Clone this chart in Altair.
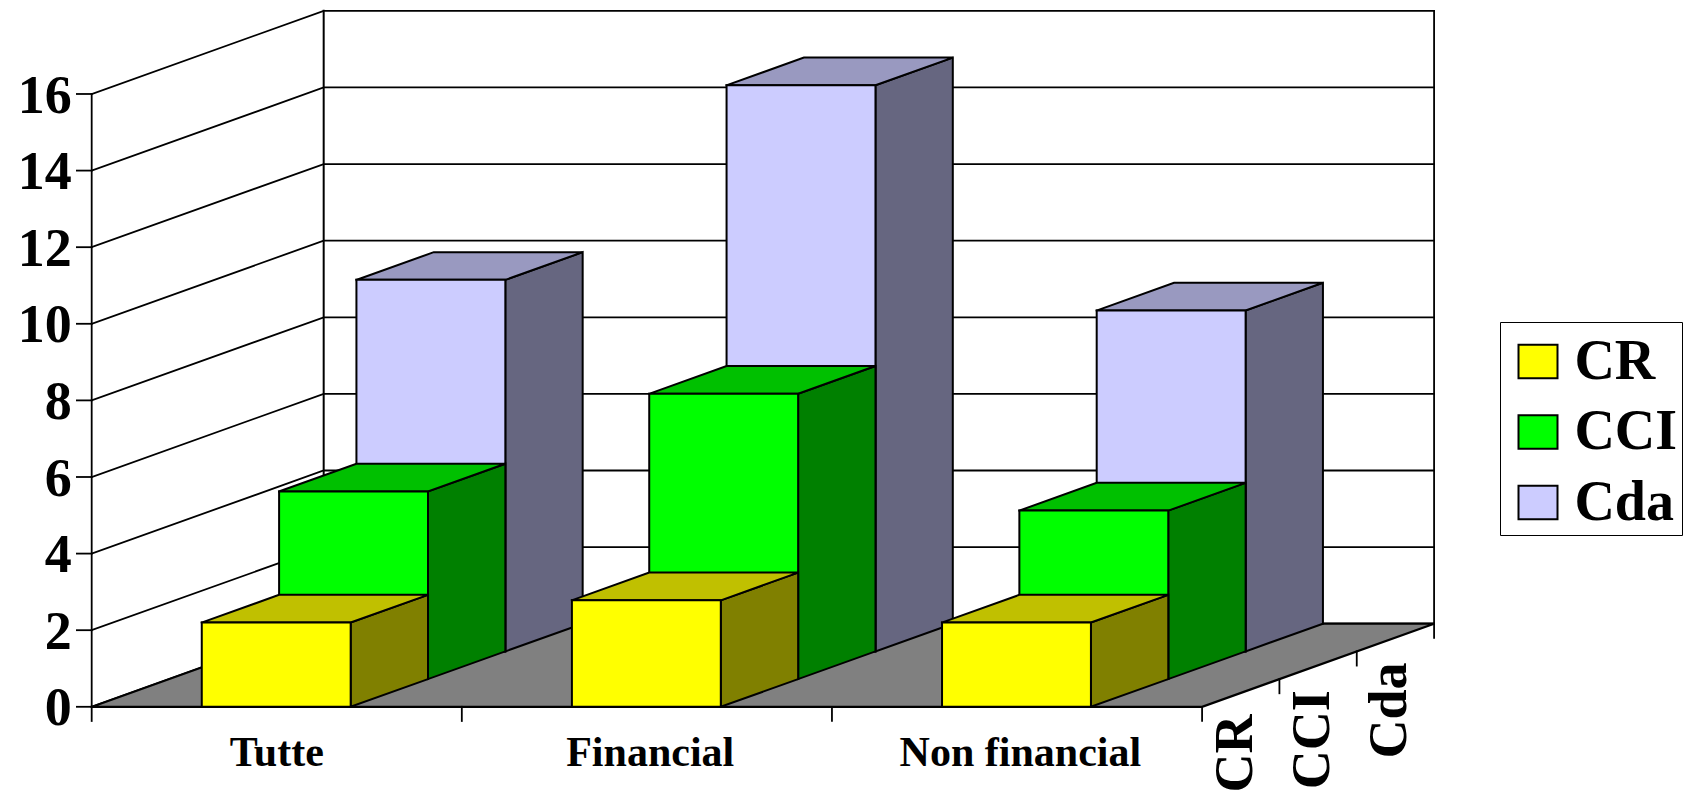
import altair as alt
import pandas as pd

categories = ["Tutte", "Financial", "Non financial"]
series = ["CR", "CCI", "Cda"]
values_cr = [2.2, 2.78, 2.2]
values_cci = [4.9, 7.45, 4.4]
values_cda = [9.7, 14.78, 8.9]
all_values = [values_cr, values_cci, values_cda]
value_ticks = [0, 2, 4, 6, 8, 10, 12, 14, 16]

front_colors = ["#FFFF00", "#00FF00", "#CCCCFF"]
top_colors = ["#C0C000", "#00C000", "#9999C0"]
side_colors = ["#808000", "#008000", "#666680"]
FLOOR = "#808080"
FONT = "Liberation Serif"

# oblique projection: cat in category units, v in value units, depth 0..1
DX, DY = 0.6268, 2.17
W, H = 1676, 788
X_DOMAIN = [-0.2261, 4.3020]
Y_DOMAIN = [-2.329, 18.245]
xs = alt.Scale(domain=X_DOMAIN, range=[0, W], nice=False, zero=False)
ys = alt.Scale(domain=Y_DOMAIN, range=[H, 0], nice=False, zero=False)

def proj(c, v, d):
    return c + d * DX, v + d * DY

def enc(ch):
    return ch.encode(
        x=alt.X("x:Q", scale=xs, axis=None),
        y=alt.Y("y:Q", scale=ys, axis=None),
        order="o:Q",
    )

def poly(points, fill=None, width=2.0):
    pts = list(points)
    if fill is not None:
        pts = pts + [pts[0]]
    df = pd.DataFrame([{"x": p[0], "y": p[1], "o": i} for i, p in enumerate(pts)])
    kw = dict(stroke="black", strokeWidth=width, strokeJoin="miter", strokeCap="square", interpolate="linear")
    if fill is not None:
        kw["fill"] = fill
    return enc(alt.Chart(df).mark_line(**kw))

def text(label, px, py, size, **kw):
    df = pd.DataFrame([{"x": px, "y": py, "t": label}])
    return alt.Chart(df).mark_text(font=FONT, fontWeight="bold", fontSize=size, color="black", **kw).encode(
        x=alt.X("x:Q", scale=xs, axis=None),
        y=alt.Y("y:Q", scale=ys, axis=None),
        text="t:N",
    )

layers = []

# walls and grid
for v in value_ticks:
    layers.append(poly([proj(0, v, 0), proj(0, v, 1), proj(3, v, 1)], width=1.8))
layers.append(poly([proj(0, 0, 1), proj(0, 16, 1)], width=2))
layers.append(poly([proj(3, 0, 1), proj(3, 16, 1)], width=1.8))
layers.append(poly([proj(0, 0, 0), proj(0, 16, 0)], width=1.8))

# legend carrier, hidden behind the bars
legend_df = pd.DataFrame({"s": series, "x": [0.5, 0.7, 0.9], "y": [1.0, 3.0, 6.0]})
layers.append(
    alt.Chart(legend_df).mark_square(size=1, opacity=1).encode(
        x=alt.X("x:Q", scale=xs, axis=None),
        y=alt.Y("y:Q", scale=ys, axis=None),
        fill=alt.Fill(
            "s:N",
            sort=series,
            scale=alt.Scale(domain=series, range=front_colors),
            legend=alt.Legend(
                title="\u00a0" * 90,
                titleFontSize=10,
                titlePadding=5.5,
                titleLimit=500,
                orient="none",
                legendX=1492,
                legendY=314,
                padding=4,
                strokeColor="black",
                fillColor="white",
                symbolType="M-1,-0.86H1V0.86H-1Z",
                symbolSize=1521,
                symbolStrokeColor="black",
                symbolStrokeWidth=2,
                symbolOpacity=1,
                symbolOffset=6,
                labelFont=FONT,
                labelFontWeight="bold",
                labelFontSize=56,
                labelColor="black",
                labelOffset=8.4,
                labelLimit=300,
                clipHeight=40,
                rowPadding=14.5,
            ),
        ),
    )
)

# floor
layers.append(poly([proj(0, 0, 0), proj(3, 0, 0), proj(3, 0, 1), proj(0, 0, 1)], fill=FLOOR, width=2.2))

# ticks
for v in value_ticks:
    layers.append(poly([(-0.04, v), proj(0, v, 0)], width=1.8))
for c in range(4):
    layers.append(poly([(c, 0), (c, -0.37)], width=1.8))
for k in range(1, 4):
    cx, cy = proj(3, 0, k / 3)
    layers.append(poly([(cx, cy), (cx, cy - 0.37)], width=1.8))

# bars, back to front
BL, BR = 0.2974, 0.6997
for si in [2, 1, 0]:
    d0, d1 = si / 3, (si + 1) / 3
    for ci in range(3):
        v = all_values[si][ci]
        l, r = ci + BL, ci + BR
        layers.append(poly([proj(r, 0, d0), proj(r, 0, d1), proj(r, v, d1), proj(r, v, d0)], fill=side_colors[si]))
        layers.append(poly([proj(l, v, d0), proj(r, v, d0), proj(r, v, d1), proj(l, v, d1)], fill=top_colors[si]))
        layers.append(poly([proj(l, 0, d0), proj(r, 0, d0), proj(r, v, d0), proj(l, v, d0)], fill=front_colors[si]))

# text
for v in value_ticks:
    layers.append(text(str(v), 0, v, 54, align="right", baseline="alphabetic", dx=-20, dy=18.7))
for i, c in enumerate(categories):
    layers.append(text(c, i + 0.5 + (0.009 if i else 0), -1.546, 42, align="center", baseline="alphabetic"))
label_lift = [0.56, 0.65, 0.65]
for k, s in enumerate(series):
    cx, cy = proj(3, 0, (k + 0.5) / 3)
    layers.append(text(s, cx - 0.0135, cy - label_lift[k], 54, align="right", baseline="middle", angle=270))

chart = (
    alt.layer(*layers)
    .properties(width=W, height=H, padding=0, autosize=alt.AutoSizeParams(type="none"))
    .configure_view(stroke=None)
)
chart.save("out.html", embed_options={"renderer": "svg", "actions": False})
